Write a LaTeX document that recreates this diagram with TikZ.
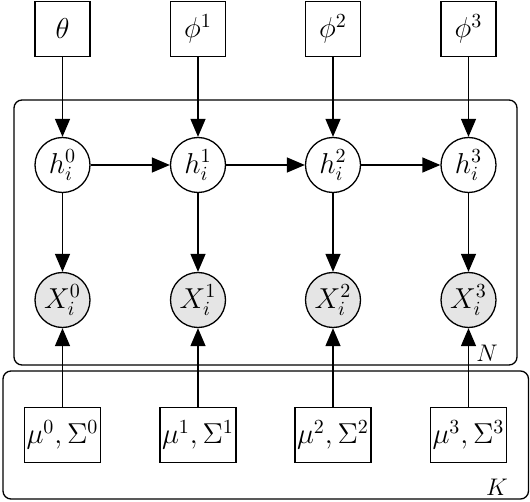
\documentclass[tikz,border=0pt]{standalone}
\usetikzlibrary{arrows.meta}
\begin{document}
\begin{tikzpicture}[x=0.5pt,y=-0.5pt,
  every path/.style={line width=0.65pt},
  param/.style={draw,line width=0.65pt,minimum size=27.5pt,inner sep=1pt,font=\Large},
  latent/.style={draw,circle,line width=0.65pt,minimum size=27.5pt,inner sep=0pt,font=\Large},
  obs/.style={latent,fill=gray!20},
  plate/.style={draw,line width=0.65pt,rounded corners=4pt},
  platelabel/.style={font=\large,inner sep=0pt},
  edge/.style={-{Triangle[length=9pt,width=7.5pt]},line width=0.65pt}]
\useasboundingbox (0,0) rectangle (530,502);
% plates
\draw[plate] (14,100) rectangle (517,365);
\draw[plate] (3,371) rectangle (528.5,499);
\node[platelabel] (N) at (487,353) {$N$};
\node[platelabel] (K) at (497,487) {$K$};
% top parameters
\node[param] (t0) at (62.5,29) {$\theta$};
\node[param] (t1) at (198,29) {$\phi^1$};
\node[param] (t2) at (333,29) {$\phi^2$};
\node[param] (t3) at (468.5,29) {$\phi^3$};
% hidden
\node[latent] (h0) at (62.5,165) {$h_i^0$};
\node[latent] (h1) at (198,165) {$h_i^1$};
\node[latent] (h2) at (333,165) {$h_i^2$};
\node[latent] (h3) at (468.5,165) {$h_i^3$};
% observed
\node[obs] (x0) at (62.5,300) {$X_i^0$};
\node[obs] (x1) at (198,300) {$X_i^1$};
\node[obs] (x2) at (333,300) {$X_i^2$};
\node[obs] (x3) at (468.5,300) {$X_i^3$};
% emission parameters
\node[param] (m0) at (62.5,435) {$\mu^0,\Sigma^0$};
\node[param] (m1) at (198,435) {$\mu^1,\Sigma^1$};
\node[param] (m2) at (333,435) {$\mu^2,\Sigma^2$};
\node[param] (m3) at (468.5,435) {$\mu^3,\Sigma^3$};
% edges
\foreach \i in {0,1,2,3}{
  \draw[edge] (t\i) -- (h\i);
  \draw[edge] (h\i) -- (x\i);
  \draw[edge] (m\i) -- (x\i);
}
\draw[edge] (h0) -- (h1);
\draw[edge] (h1) -- (h2);
\draw[edge] (h2) -- (h3);
\end{tikzpicture}
\end{document}
